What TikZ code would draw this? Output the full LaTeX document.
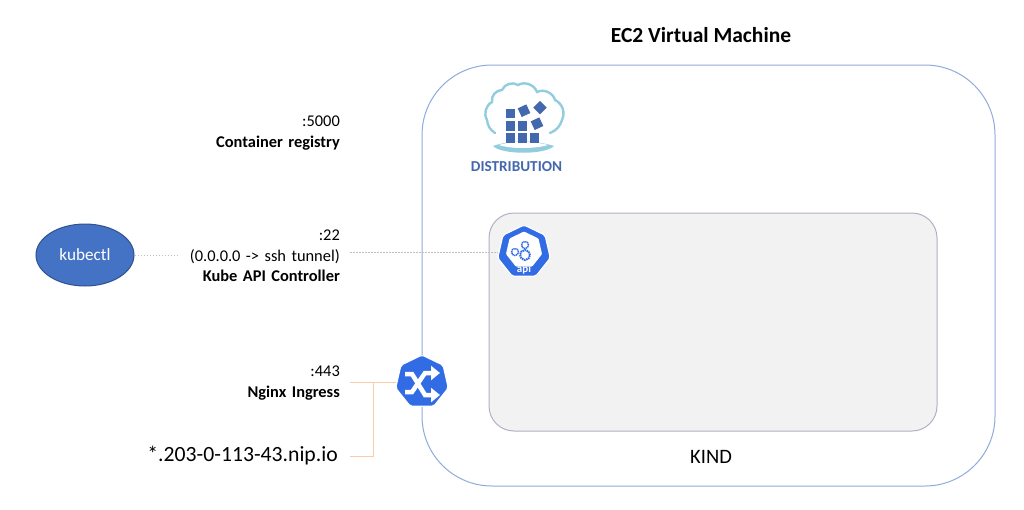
\documentclass[tikz,border=0pt]{standalone}
\usepackage{fontspec}
\setmainfont{Carlito}
\usetikzlibrary{shapes.geometric, arrows.meta}
\definecolor{vmblue}{HTML}{8FAADC}
\definecolor{kindline}{HTML}{ADB3C4}
\definecolor{kindfill}{HTML}{F2F2F2}
\definecolor{ovalfill}{HTML}{4472C4}
\definecolor{ovalline}{HTML}{2F528F}
\definecolor{k8sblue}{HTML}{326CE5}
\definecolor{cloudblue}{HTML}{92CDDF}
\definecolor{boxblue}{HTML}{4468AE}
\definecolor{wireorange}{HTML}{F8CBAD}
\definecolor{dotgray}{HTML}{BFBFBF}
\begin{document}
\begin{tikzpicture}[x=1pt, y=-1pt,
        vmbox/.style={draw=vmblue, line width=1pt, rounded corners=70pt},
        kindbox/.style={draw=kindline, line width=1pt, fill=kindfill, rounded corners=25pt},
        port/.style={anchor=east, align=right, inner xsep=10pt, inner ysep=0pt, text width=152pt,
            font=\fontsize{16.4}{20.5}\selectfont},
        k8sicon/.style={regular polygon, regular polygon sides=7, draw=white, line width=1.2pt, fill=k8sblue,
            minimum size=54pt, inner sep=0pt, rounded corners=2pt},
        wire/.style={draw=wireorange, line width=1pt},
        dotted_wire/.style={draw=dotgray, line width=0.7pt, dash pattern=on 1.5pt off 1.5pt},
        regbox/.style={fill=boxblue, minimum size=9.5pt, inner sep=0pt},
        gear/.style={draw=k8sblue, line width=1.5pt, circle, inner sep=0pt},
        swap_arrow/.style={draw=white, line width=4.5pt, -{Triangle[width=14pt,length=9pt]}, line join=miter}
    ]

    % Page
    \fill[white] (0,0) rectangle (1024,509);

    % Title and the two boxes
    \node[font=\fontsize{21.5}{24}\selectfont\bfseries] (title) at (701,35) {EC2 Virtual Machine};
    \draw[vmbox] (422,65) rectangle (995,486);
    \draw[kindbox] (489,213) rectangle (937,431);
    \node[font=\fontsize{20.5}{24}\selectfont] (kind) at (711,457) {KIND};

    % Port labels
    \node[port] (port5000) at (350,133) {:5000\\\textbf{Container registry}};
    \node[port] (port22) at (350,256) {:22\\(0.0.0.0 -> ssh tunnel)\\\textbf{Kube API Controller}};
    \node[port] (port443) at (350,383) {:443\\\textbf{Nginx Ingress}};
    \node[anchor=east, inner xsep=12pt, inner ysep=0pt, font=\fontsize{21.7}{24}\selectfont] (host) at (350,456) {*.203-0-113-43.nip.io};

    % Client
    \node[ellipse, draw=ovalline, line width=1pt, fill=ovalfill, text=white, minimum width=98pt, minimum height=62pt,
        inner sep=0pt, font=\fontsize{17.2}{20}\selectfont] (kubectl) at (85,255) {kubectl};

    % Kubernetes icons
    \node[k8sicon] (api) at (524,252) {};
    \node[k8sicon] (ingress) at (422,382) {};

    % Connectors
    \draw[dotted_wire] (kubectl) -- (kubectl -| port22.west);
    \draw[dotted_wire] (port22.east |- api) -- (api);
    \coordinate (junction) at (373,382);
    \draw[wire] (port443.east |- ingress) -- (ingress);
    \draw[wire] (host.east) -| (junction);

    % Api icon
    \node[regular polygon, regular polygon sides=7, fill=white, minimum size=37pt, inner sep=0pt, rounded corners=1pt] (apiface) at (524,250) {};
    \node[gear, minimum size=7pt, dash pattern=on 1.3pt off 0.6pt] (gear_a) at (515,252) {};
    \node[gear, minimum size=7pt, dash pattern=on 1.3pt off 0.6pt] (gear_b) at (525,245) {};
    \node[gear, minimum size=10pt, line width=2pt, dash pattern=on 1.5pt off 0.7pt] (gear_c) at (525,255) {};
    \node[text=white, inner sep=0pt, font=\fontsize{11}{12}\selectfont\bfseries] (apilabel) at (524,269) {api};

    % Ingress icon
    \draw[swap_arrow] (405,374) -- (412,374) -- (425,395) -- (440,395);
    \draw[draw=k8sblue, line width=1.5pt] (415,388) -- (422,377);
    \draw[swap_arrow] (405,392) -- (412,392) -- (425,373) -- (440,373);

    % Distribution logo
    \draw[cloudblue, line width=2.4pt, line cap=round]
        (495,133) to[bend left=25] (487,120) to[bend left=45] (492,102) to[bend left=50] (502,90)
        to[bend left=50] (518,85) to[bend left=50] (537,92) to[bend left=50] (555,100)
        to[bend left=45] (562,120) to[bend left=25] (550,133);
    \fill[cloudblue] (493,146) .. controls (510,140) and (535,140) .. (554,146)
        .. controls (545,155) and (502,155) .. (493,146) -- cycle;
    \fill[white] (499,145) .. controls (510,141) and (535,141) .. (548,145)
        .. controls (535,149) and (510,149) .. (499,145) -- cycle;
    \foreach \name/\px/\py/\turn in {a/510.5/113.5/0, b/510.5/126/0, c/510.5/138/0, d/522.5/126/0, e/522.5/138/0,
        f/534.5/138/0, g/524/110.7/25, h/540/107.7/45, i/537/123.7/25}
        \node[regbox, rotate=\turn] (box\name) at (\px,\py) {};
    \node[text=boxblue, inner sep=0pt, font=\fontsize{15.2}{17}\selectfont\bfseries] (distribution) at (516.5,167) {DISTRIBUTION};

\end{tikzpicture}
\end{document}
